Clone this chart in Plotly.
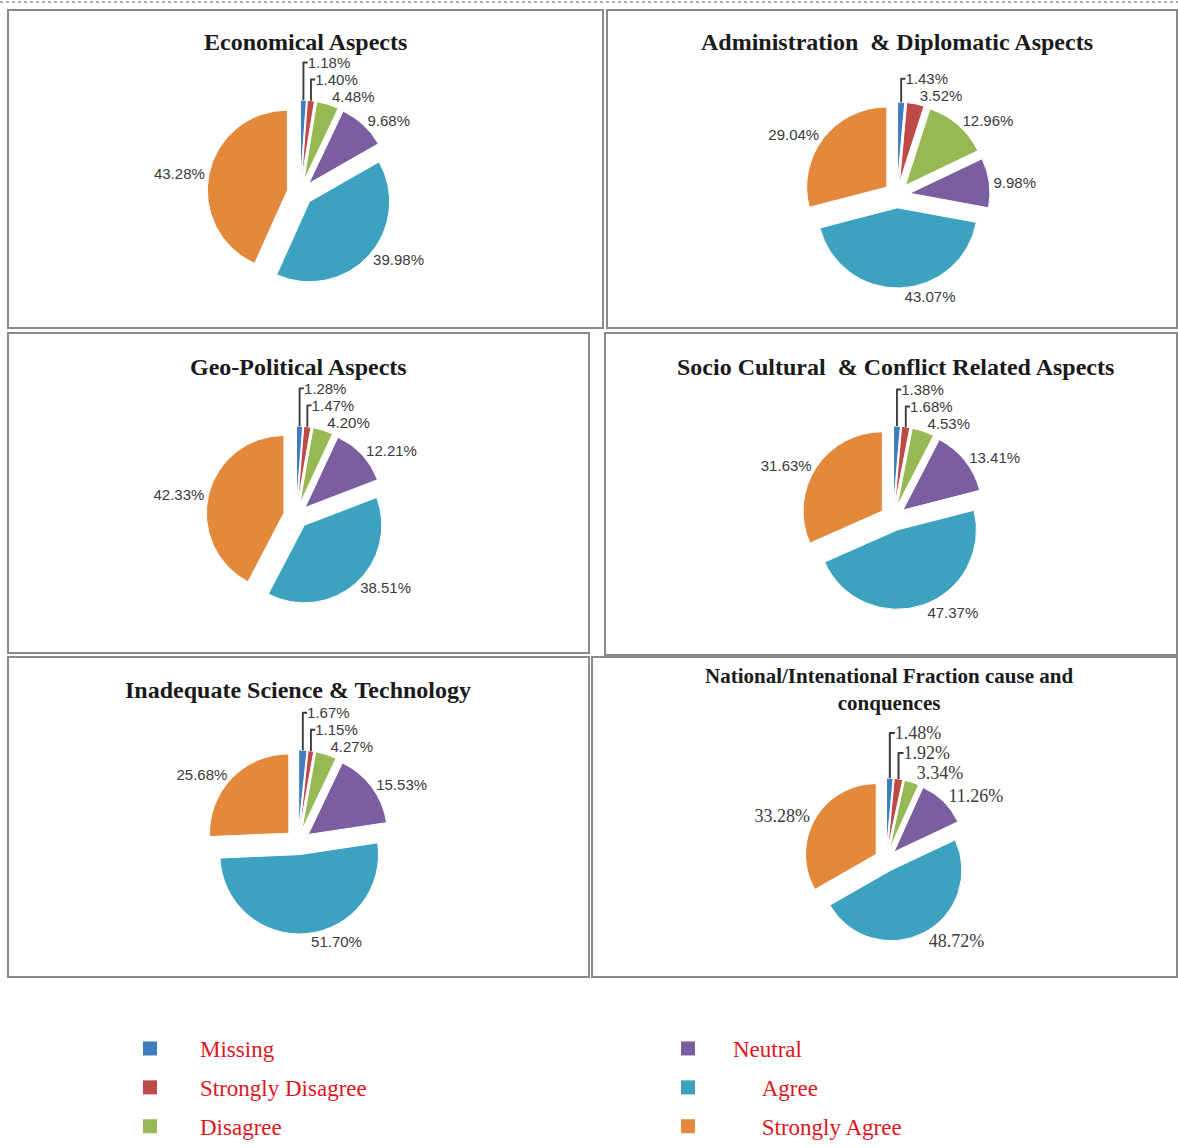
import plotly.graph_objects as go

# ---------------- data ----------------
categories = ["Missing", "Strongly Disagree", "Disagree", "Neutral", "Agree", "Strongly Agree"]
titles = [
    "Economical Aspects",
    "Administration  & Diplomatic Aspects",
    "Geo-Political Aspects",
    "Socio Cultural  & Conflict Related Aspects",
    "Inadequate Science & Technology",
    "National/Intenational Fraction cause and<br>conquences",
]
economical = [1.18, 1.40, 4.48, 9.68, 39.98, 43.28]
administration = [1.43, 3.52, 12.96, 9.98, 43.07, 29.04]
geo_political = [1.28, 1.47, 4.20, 12.21, 38.51, 42.33]
socio_cultural = [1.38, 1.68, 4.53, 13.41, 47.37, 31.63]
science_tech = [1.67, 1.15, 4.27, 15.53, 51.70, 25.68]
national = [1.48, 1.92, 3.34, 11.26, 48.72, 33.28]
series = [economical, administration, geo_political, socio_cultural, science_tech, national]

colors = ["#3F7DBE", "#BE4A47", "#97B954", "#7B5E9F", "#3CA2C0", "#E3893B"]

# ---------------- layout (pixels) ----------------
W, H = 1178, 1148
pie_centers = [(300, 193), (897, 195), (296, 516), (893, 518), (298, 842), (886, 860)]
pie_half = [93, 93, 90, 92, 92, 82]
title_pos = [(305, 42), (897, 42), (298, 367), (895, 367), (298, 690), (889, 690)]
title_size = [24, 24, 24, 24, 24, 21]
label_font = [("Liberation Sans", 15)] * 5 + [("Liberation Serif", 18)]
boxes = [(8, 10, 603, 328), (607, 10, 1177, 328),
         (8, 333, 589, 653), (605, 333, 1177, 655),
         (8, 657, 589, 977), (592, 657, 1177, 977)]


def px(x):
    return x / W


def py(y):
    return 1 - y / H


fig = go.Figure()

for i, vals in enumerate(series):
    cx, cy = pie_centers[i]
    h = pie_half[i]
    fam, sz = label_font[i]
    fig.add_trace(go.Pie(
        labels=categories,
        values=vals,
        text=[f"{v:.2f}%" for v in vals],
        textinfo="text",
        textposition="outside",
        outsidetextfont=dict(family=fam, size=sz, color="#3a3a3a"),
        marker=dict(colors=colors, line=dict(color="white", width=1)),
        sort=False,
        direction="clockwise",
        rotation=0,
        pull=[0.16] * len(vals),
        showlegend=False,
        hoverinfo="label+text",
        domain=dict(x=[px(cx - h), px(cx + h)], y=[py(cy + h), py(cy - h)]),
    ))
    tx, ty = title_pos[i]
    fig.add_annotation(
        x=px(tx), y=py(ty), xref="paper", yref="paper",
        text=f"<b>{titles[i]}</b>", showarrow=False,
        font=dict(family="Liberation Serif", size=title_size[i], color="#1a1a1a"),
        xanchor="center", yanchor="middle",
    )

# legend entries (two columns)
indent = ["", "", "", "", "\u00a0" * 5, "\u00a0" * 5]
for j, (cat, col) in enumerate(zip(categories, colors)):
    fig.add_trace(go.Scatter(
        x=[None], y=[None], mode="markers",
        marker=dict(symbol="square", size=14, color=col),
        name=indent[j] + cat,
        legendgroup=f"g{j}",
        legend="legend" if j < 3 else "legend2",
        showlegend=True,
    ))

shapes = []
for (x0, y0, x1, y1) in boxes:
    shapes.append(dict(type="rect", xref="paper", yref="paper",
                       x0=px(x0), x1=px(x1), y0=py(y1), y1=py(y0),
                       line=dict(color="#8a8a8a", width=2)))
shapes.append(dict(type="line", xref="paper", yref="paper",
                   x0=0, x1=1, y0=py(2), y1=py(2),
                   line=dict(color="#555555", width=1, dash="dot")))

legend_common = dict(
    font=dict(family="Liberation Serif", size=23, color="#E0141E"),
    bgcolor="rgba(0,0,0,0)", tracegroupgap=6,
    xanchor="left", yanchor="bottom", orientation="v",
)

fig.update_layout(
    width=W, height=H,
    margin=dict(l=0, r=0, t=0, b=0),
    paper_bgcolor="white", plot_bgcolor="white",
    shapes=shapes,
    xaxis=dict(visible=False, domain=[0, 0.01]),
    yaxis=dict(visible=False, domain=[0, 0.01]),
    legend=dict(x=px(100), y=0, itemwidth=90, **legend_common),
    legend2=dict(x=px(643), y=0, itemwidth=80, **legend_common),
)

fig.write_html("out.html", config={"displayModeBar": False},
               post_script="document.body.style.margin='0';")
